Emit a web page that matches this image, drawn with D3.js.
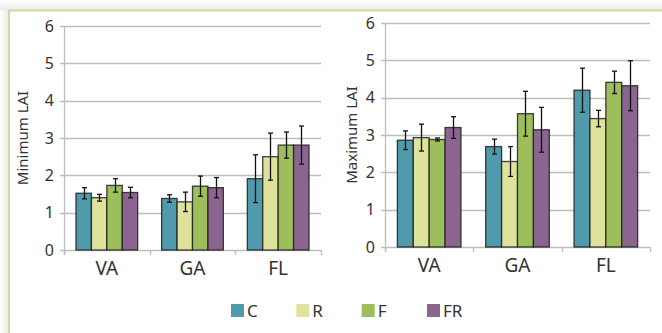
<!DOCTYPE html>
<html><head><meta charset="utf-8">
<script src="https://cdn.jsdelivr.net/npm/d3@7"></script>
<style>body{margin:0;background:#fff}svg{display:block;font-family:"Noto Sans",sans-serif}</style>
</head><body>
<svg id="c" width="662" height="333"></svg>
<script>
const categories = ["VA","GA","FL"];
const seriesNames = ["C","R","F","FR"];
const colors = ["#4f9aab","#dfe29a","#9dbf5b","#8b6590"];
const yTicks = [0,1,2,3,4,5,6];
// Minimum LAI: rows = categories, cols = series
const minVals = [[1.52,1.40,1.73,1.54],[1.38,1.29,1.71,1.67],[1.91,2.50,2.81,2.81]];
const minErr  = [[0.15,0.09,0.18,0.14],[0.10,0.26,0.27,0.27],[0.64,0.63,0.35,0.51]];
const maxVals = [[2.86,2.93,2.88,3.20],[2.69,2.29,3.57,3.14],[4.20,3.44,4.41,4.32]];
const maxErr  = [[0.25,0.36,0.04,0.29],[0.20,0.40,0.60,0.60],[0.59,0.22,0.30,0.67]];

const svg = d3.select("#c");
const defs = svg.append("defs");
const gTop = defs.append("linearGradient").attr("id","gt").attr("x1",0).attr("y1",0).attr("x2",0).attr("y2",1);
gTop.append("stop").attr("offset",0).attr("stop-color","#ffffff");
gTop.append("stop").attr("offset",1).attr("stop-color","#ececec");
const gLeft = defs.append("linearGradient").attr("id","gl").attr("x1",0).attr("y1",0).attr("x2",1).attr("y2",0);
gLeft.append("stop").attr("offset",0).attr("stop-color","#ffffff");
gLeft.append("stop").attr("offset",1).attr("stop-color","#ececec");
svg.append("rect").attr("x",0).attr("y",0).attr("width",662).attr("height",10).attr("fill","url(#gt)");
svg.append("rect").attr("x",0).attr("y",10).attr("width",8).attr("height",323).attr("fill","url(#gl)");
svg.append("line").attr("x1",8).attr("x2",662).attr("y1",10.5).attr("y2",10.5).attr("stroke","#cddb9f").attr("stroke-width",2);
svg.append("line").attr("x1",9).attr("x2",9).attr("y1",10).attr("y2",333).attr("stroke","#cddb9f").attr("stroke-width",2);

function panel(vals, errs, x0, x1, yb, yt, title, titleX) {
  const g = svg.append("g");
  const x = d3.scaleBand().domain(categories).range([x0,x1]).paddingInner(0.28).paddingOuter(0.14);
  const xs = d3.scaleBand().domain(seriesNames).range([0, x.bandwidth()]);
  const xc = d3.scaleBand().domain(categories).range([x0,x1]);
  const y = d3.scaleLinear().domain([0,6]).range([yb,yt]);
  g.selectAll(".gl").data(yTicks).join("line")
    .attr("x1",x0-4).attr("x2",x1).attr("y1",d=>Math.round(y(d))+0.5).attr("y2",d=>Math.round(y(d))+0.5)
    .attr("stroke","#bdbdbd").attr("stroke-width",1.3);
  g.append("line").attr("x1",x0+0.5).attr("x2",x0+0.5).attr("y1",yt).attr("y2",yb+5).attr("stroke","#bdbdbd").attr("stroke-width",1.3);
  g.selectAll(".ct").data(categories.concat(["end"])).join("line")
    .attr("x1",(d,i)=>Math.round(i<3?xc(d):x1)+0.5).attr("x2",(d,i)=>Math.round(i<3?xc(d):x1)+0.5)
    .attr("y1",yb).attr("y2",yb+5).attr("stroke","#bdbdbd").attr("stroke-width",1.3);
  g.selectAll(".yl").data(yTicks).join("text")
    .attr("x",x0-10).attr("y",d=>y(d)).attr("dy","0.36em").attr("text-anchor","end")
    .attr("font-size",16).attr("fill","#333").text(d=>d);
  g.selectAll(".xl").data(categories).join("text")
    .attr("x",d=>x(d)+x.bandwidth()/2).attr("y",yb+25).attr("text-anchor","middle")
    .attr("font-size",19).attr("fill","#333").text(d=>d);
  g.append("text").attr("transform",`translate(${titleX},${(yt+yb)/2}) rotate(-90)`)
    .attr("text-anchor","middle").attr("dy","0.35em").attr("font-size",15).attr("fill","#333").text(title);
  categories.forEach((c,ci)=>{
    seriesNames.forEach((s,si)=>{
      const v = vals[ci][si], e = errs[ci][si];
      const bx = x(c)+xs(s);
      g.append("rect").attr("x",bx).attr("y",y(v)).attr("width",xs.bandwidth()).attr("height",y(0)-y(v))
        .attr("fill",colors[si]).attr("stroke","#1e1e1e").attr("stroke-opacity",0.85).attr("stroke-width",1.3);
      const cx = Math.round(bx+xs.bandwidth()/2)+0.5;
      g.append("line").attr("x1",cx).attr("x2",cx).attr("y1",y(v+e)).attr("y2",y(v-e)).attr("stroke","#111").attr("stroke-width",1.3);
      [v+e, v-e].forEach(t=>{
        g.append("line").attr("x1",cx-2.5).attr("x2",cx+2.5).attr("y1",y(t)).attr("y2",y(t)).attr("stroke","#111").attr("stroke-width",1.3);
      });
    });
  });
}
panel(minVals, minErr, 64, 321, 250, 26, "Minimum LAI", 23);
panel(maxVals, maxErr, 385, 650, 247, 23, "Maximum LAI", 352);

const legX = d3.scalePoint().domain(seriesNames).range([231, 427]);
const lg = svg.append("g");
seriesNames.forEach((s,i)=>{
  lg.append("rect").attr("x",legX(s)).attr("y",304).attr("width",13).attr("height",13).attr("fill",colors[i]);
  lg.append("text").attr("x",legX(s)+16).attr("y",311).attr("dy","0.36em").attr("font-size",17).attr("fill","#333").text(s);
});
</script>
</body></html>
